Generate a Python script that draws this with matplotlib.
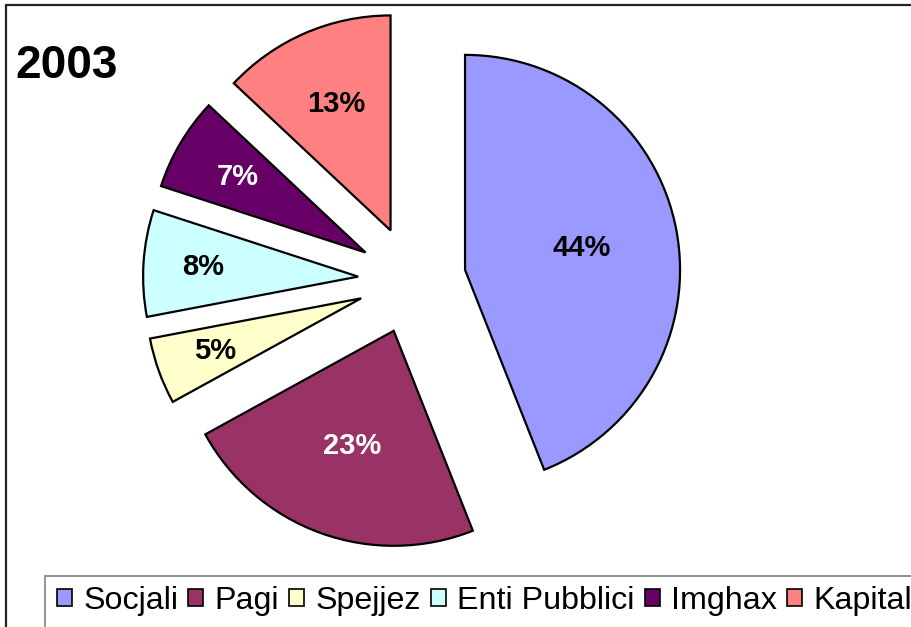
import numpy as np
from matplotlib import pyplot as plt
from matplotlib.patches import Rectangle, Patch

# data
categories = ['Socjali', 'Pagi', 'Spejjez', 'Enti Pubblici', 'Imghax', 'Kapital']
shares = [44, 23, 5, 8, 7, 13]
title = '2003'

# styles
colors = ['#9999FF', '#993366', '#FFFFCC', '#CCFFFF', '#660066', '#FF8080']
label_colors = ['black', 'white', 'black', 'black', 'white', 'black']
label_dist = [0.55, 0.57, 0.72, 0.72, 0.69, 0.64]

plt.rcParams['font.family'] = ['Liberation Sans', 'DejaVu Sans']

W, H = 912, 627
fig = plt.figure(figsize=(W / 100, H / 100), dpi=100)
ax = fig.add_axes([0, 0, 1, 1])

# pie in pixel-like units so radius/explode are easy to reason about
radius = 215
center = (412, H - 280)
wedges, _ = ax.pie(shares, colors=colors, startangle=90, counterclock=False,
                   radius=radius, center=center, explode=[54] * len(shares),
                   wedgeprops=dict(edgecolor='black', linewidth=1.6))

for w, s, tc, d in zip(wedges, shares, label_colors, label_dist):
    th = np.deg2rad((w.theta1 + w.theta2) / 2)
    cx, cy = w.center
    ax.text(cx + d * radius * np.cos(th), cy + d * radius * np.sin(th), f'{s}%',
            ha='center', va='center', fontsize=21, fontweight='bold', color=tc)

ax.set_xlim(0, W)
ax.set_ylim(0, H)
ax.set_aspect('equal')
ax.axis('off')

# outer frame (cut off at right and bottom like the reference)
fig.patches.append(Rectangle((6 / W, -0.5), 2, 1.5 - 5 / H, transform=fig.transFigure,
                             fill=False, edgecolor='#222222', linewidth=1.6))

fig.text(15 / W, 1 - 66 / H, title, fontsize=33, fontweight='bold', va='center', ha='left')

# legend box
fig.patches.append(Rectangle((45 / W, -0.5), 2, 0.5 + 1 - 576 / H, transform=fig.transFigure,
                             fill=False, edgecolor='#808080', linewidth=1.2))
handles = [Patch(facecolor=c, edgecolor='black', linewidth=1.2) for c in colors]
fig.legend(handles, categories, loc='center left', bbox_to_anchor=(57 / W, 1 - 601 / H),
           ncol=6, frameon=False, fontsize=23.2, handlelength=0.46, handleheight=0.46,
           handletextpad=0.35, columnspacing=0.32, borderpad=0, borderaxespad=0)

fig.savefig('out.png', dpi=100)
